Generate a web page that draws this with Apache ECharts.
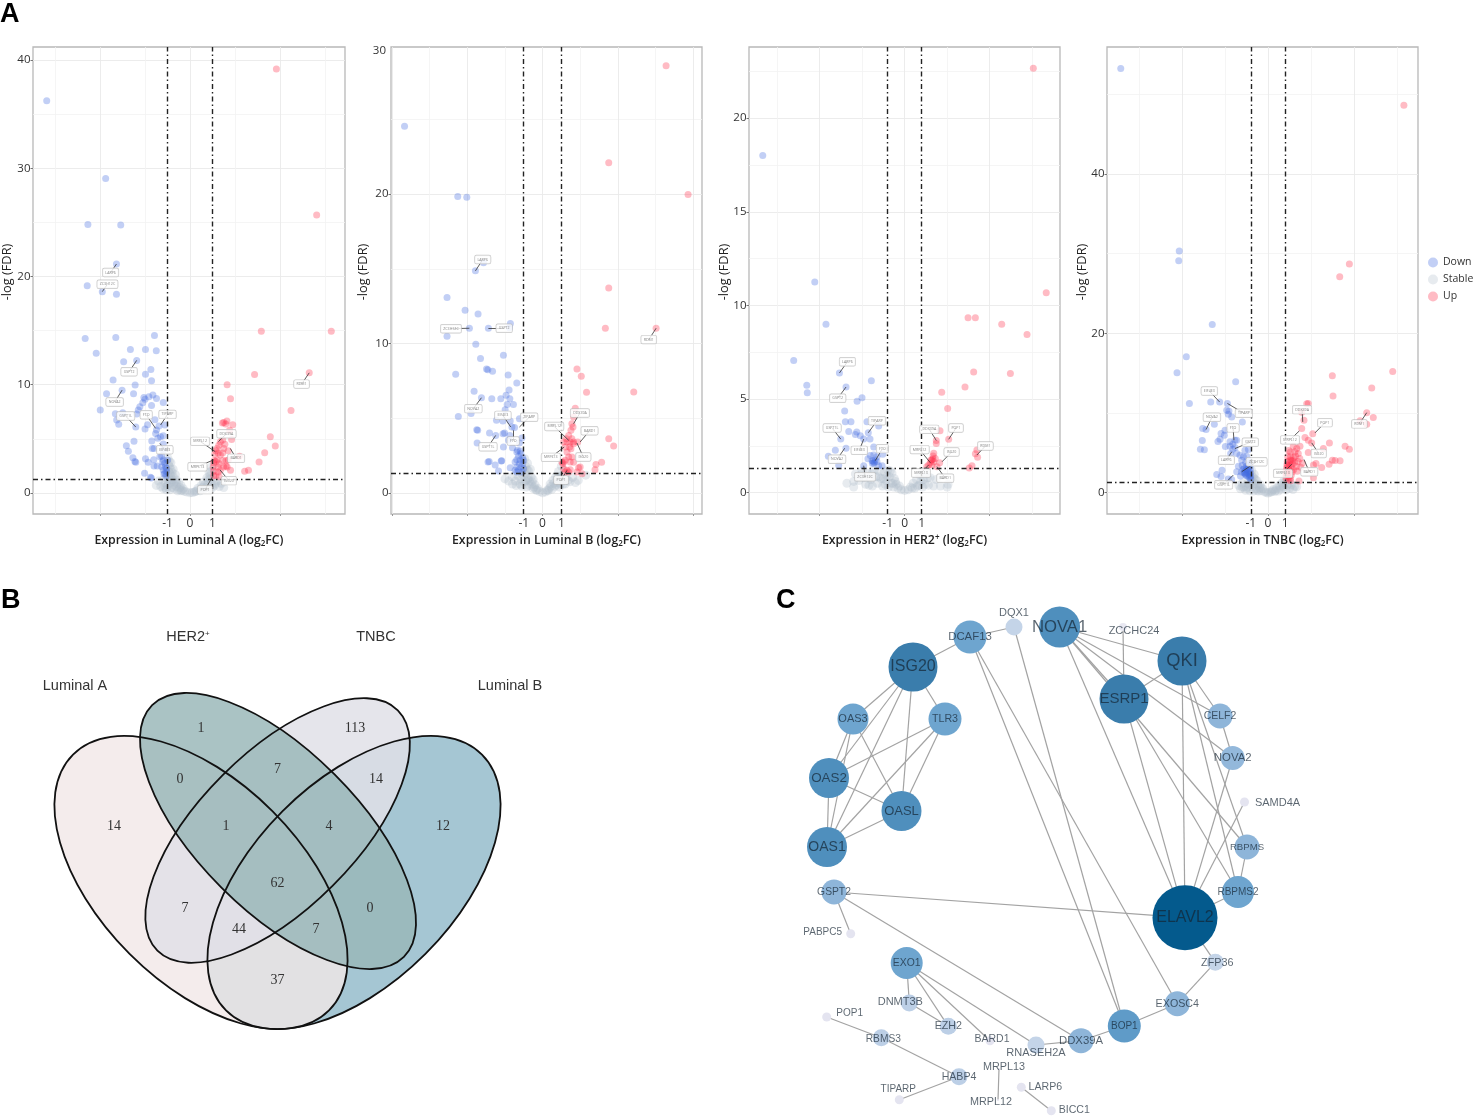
<!DOCTYPE html>
<html><head><meta charset="utf-8">
<style>html,body{margin:0;padding:0;background:#fff}#c{width:1473px;height:1117px}</style>
<script src="https://cdn.jsdelivr.net/npm/echarts@6/dist/echarts.min.js"></script>
</head><body><div id="c"></div>
<script>
// ---------- Panel A data: [log2FC, -log(FDR)] ----------
const lumADown=[[-6.37,36.24],[-3.75,29.06],[-4.54,24.8],[-3.08,24.75],[-3.27,21.15],[-4.57,19.14],[-3.9,18.6],[-3.27,18.37],[-4.66,14.28],[-3.3,14.37],[-1.58,14.55],[-2.65,13.26],[-1.98,13.26],[-1.5,13.14],[-4.17,12.9],[-2.95,12.12],[-2.37,12.25],[-1.74,11.4],[-1.98,10.98],[-1.71,10.37],[-3.42,10.43],[-2.44,9.97],[-3.02,9.5],[-3.71,9.17],[-2.51,9.17],[-1.65,9.05],[-2.05,8.83],[-1.83,8.89],[-1.49,8.74],[-2.0,8.65],[-2.1,8.34],[-1.19,8.37],[-1.71,8.09],[-2.23,7.97],[-3.99,7.66],[-2.3,7.66],[-2.37,7.29],[-3.32,7.32],[-2.99,7.42],[-3.26,6.74],[-3.17,6.34],[-1.56,6.77],[-1.89,6.31],[-2.41,6.09],[-2.0,5.91],[-1.12,6.28],[-1.38,6.18],[-1.49,5.82],[-1.53,5.5],[-1.19,5.29],[-1.31,5.2],[-1.43,5.05],[-1.7,4.8],[-2.49,4.77],[-1.19,4.52],[-2.83,4.37],[-1.68,4.12],[-1.6,4.12],[-1.19,3.97],[-2.74,3.85],[-1.26,3.42],[-2.54,3.26],[-1.98,3.17],[-1.61,3.08],[-2.45,2.92],[-2.41,2.83],[-1.86,2.83],[-1.6,2.49],[-1.46,2.49],[-2.02,1.82],[-1.76,1.45],[-1.72,1.38],[-1.19,3.05],[-1.34,3.35],[-1.12,2.74],[-1.09,2.43],[-1.19,2.12],[-1.12,1.82],[-1.07,1.57],[-1.22,2.89],[-1.04,2.28],[-1.0,3.05],[-1.16,1.75],[-1.04,1.97],[-1.26,2.43]];
const lumAUp=[[3.84,39.17],[5.63,25.67],[3.17,14.95],[6.28,14.95],[5.3,11.1],[2.87,10.95],[1.65,10],[1.8,8.7],[4.49,7.63],[1.5,6.52],[1.44,6.46],[1.64,6.65],[1.59,6.37],[1.9,6.31],[3.57,5.2],[3.79,4.34],[3.32,3.72],[3.07,2.86],[2.6,2.09],[2.43,2.0],[1.85,4.95],[1.76,5.8],[1.05,1.6],[1.05,2.0],[1.03,2.4],[1.05,2.8],[1.08,3.0],[1.15,2.9],[1.2,3.05],[1.1,3.6],[1.15,3.9],[1.2,4.1],[1.28,4.4],[1.35,4.7],[1.45,4.9],[1.25,3.7],[1.35,3.5],[1.45,3.7],[1.5,4.1],[1.55,4.5],[1.7,3.9],[1.3,2.7],[1.45,3.0],[1.6,3.0],[1.7,3.05],[1.25,2.4],[1.35,2.1],[1.5,2.4],[1.6,2.5],[1.65,2.4],[1.15,1.6],[1.3,1.5],[1.8,2.1],[1.25,1.95],[2.2,3.4]];
const lumAStable=[[-1.5,.7],[-1.4,1.1],[-1.3,.6],[-1.2,1.2],[-1.2,.4],[-1.1,.9],[-1.05,.3],[-1,1.2],[-.98,3.2],[-.95,2.6],[-.95,2],[-.95,1.5],[-.95,.9],[-.9,.3],[-.85,2.8],[-.85,2.2],[-.85,1.6],[-.85,1.0],[-.8,.5],[-.75,2.2],[-.75,1.5],[-.7,1],[-.7,.4],[-.65,1.7],[-.6,1.2],[-.6,.6],[-.55,.2],[-.5,1.0],[-.45,.5],[-.4,.2],[-.4,.7],[-.3,.4],[-.25,.15],[-.15,.1],[0,.02],[.1,.05],[.2,.1],[.3,.2],[.35,.45],[.45,.2],[.5,.7],[.6,.35],[.6,1],[.7,.5],[.75,1.4],[.8,.9],[.85,1.9],[.9,.4],[.9,1.3],[.95,2.4],[.95,.9],[1.1,.7],[1.2,1.1],[1.3,.6],[1.4,.9],[1.5,.5],[-.92,2.9],[-.9,2.4],[-.9,1.8],[-.88,1.2],[-.8,1.9],[-.78,1.2],[-.72,.75],[-.6,.9],[-.5,.35],[-.35,.25],[.25,.15],[.55,.5],[.65,.75],[.8,1.2],[.88,1.6],[.92,2.0],[1.0,.5],[-1.0,.6],[-1.1,.5],[1.15,.9]];
const lumALabels=[["LARP6",-3.53,20.37,-3.27,21.15],["ZC3H12C",-3.67,19.29,-3.9,18.6],["GSPT2",-2.71,11.2,-2.37,12.25],["NOVA2",-3.35,8.4,-3.02,9.5],["GSPT1L",-2.86,7.11,-2.41,6.09],["FTO",-1.95,7.23,-1.53,5.97],["TIPARP",-1.0,7.26,-1.31,6.28],["EIF4E3",-1.12,4.0,-1.34,4.58],["MRPL12",.45,4.77,1.12,3.82],["MRPL13",.33,2.43,1.04,3.05],["DDX39A",1.62,5.48,1.26,4.74],["BARD1",2.05,3.2,1.79,4.12],["ISG20",1.73,1.14,1.34,2.12],["POP1",.67,.31,1,1.5],["RDM1",4.96,10.06,5.3,11.1]];

const lumBDown=[[-7.34,24.55],[-4.51,19.84],[-4.03,19.8],[-3.57,14.87],[-3.14,15.42],[-5.08,13.08],[-4.12,12.23],[-3.43,11.99],[-3.89,11.03],[-2.88,11.03],[-1.71,11.34],[-1.76,11.07],[-5.08,10.49],[-3.55,9.96],[-2.08,9.22],[-3.3,9.0],[-2.98,8.3],[-2.91,8.26],[-2.66,8.15],[-4.62,7.95],[-1.83,7.9],[-1.37,7.37],[-1.78,6.9],[-3.64,6.81],[-1.94,6.54],[-3.25,6.38],[-2.7,6.32],[-2.22,6.32],[-1.74,6.32],[-1.88,5.92],[-1.55,5.92],[-1.99,5.58],[-3.8,5.33],[-4.48,5.13],[-2.45,4.87],[-2.11,4.82],[-1.72,4.82],[-1.23,4.98],[-1.63,4.42],[-1.49,4.38],[-3.5,4.24],[-3.45,4.2],[-2.82,4.02],[-2.1,3.97],[-2.02,4.02],[-2.49,3.86],[-1.74,3.86],[-1.1,3.68],[-3.48,3.35],[-1.81,3.53],[-1.23,3.35],[-2.08,3.08],[-1.6,3.04],[-1.33,2.86],[-1.19,2.81],[-1.37,2.75],[-1.15,2.63],[-1.28,2.46],[-1.05,2.37],[-1.37,2.23],[-1.19,2.19],[-1.01,2.19],[-1.46,2.08],[-1.24,1.96],[-1.05,1.96],[-1.37,1.74],[-1.15,1.74],[-1.01,1.63],[-1.46,1.52],[-1.28,1.52],[-1.1,1.41],[-1.37,1.41],[-2.84,2.12],[-2.9,2.08],[-2.17,2.17],[-2.52,1.88],[-2.2,2.15],[-2.34,1.47],[-1.72,1.7]];
const lumBUp=[[6.57,28.6],[3.52,22.1],[7.74,19.98],[3.52,13.73],[3.34,11.03],[6.04,11.03],[1.83,8.3],[2.06,7.81],[2.34,6.74],[4.85,6.76],[1.74,5.67],[1.65,5.09],[1.56,4.64],[1.62,4.42],[1.51,4.2],[3.52,3.64],[3.78,3.15],[1.39,3.86],[1.26,3.64],[1.56,3.64],[1.12,3.42],[1.3,3.42],[1.47,3.42],[1.65,3.42],[1.87,3.42],[1.21,3.08],[1.44,3.08],[1.65,3.3],[1.3,2.75],[1.51,2.97],[1.39,2.41],[1.56,2.41],[1.21,2.19],[1.47,2.08],[1.03,2.08],[1.12,2.08],[1.08,1.96],[1.65,2.07],[3.14,2.07],[2.84,1.92],[2.79,1.56],[1.92,1.7],[2.0,1.74],[1.83,1.41],[2.1,1.3],[1.12,1.63],[1.3,1.52],[1.47,1.56],[1.21,1.41],[1.39,1.41]];
const lumBStable=[[-2.0,.95],[-1.8,.8],[-1.6,1.1],[-1.45,.8],[-1.3,1.15],[-1.2,.6],[-1.05,1.2],[-1,.75],[-.95,2.3],[-.9,1.8],[-.9,1.3],[-.9,.8],[-.85,.4],[-.8,2.0],[-.75,1.5],[-.75,1.0],[-.7,.5],[-.65,1.6],[-.6,1.1],[-.6,.6],[-.5,.9],[-.5,.3],[-.4,.55],[-.35,.2],[-.25,.3],[-.15,.1],[0,.02],[.15,.08],[.25,.2],[.35,.3],[.4,.6],[.5,.25],[.55,.85],[.65,.45],[.7,1.1],[.8,.7],[.85,1.45],[.9,.4],[.95,1.0],[1.0,1.8],[1.1,.6],[1.25,1.0],[1.45,.75],[1.6,1.05],[1.75,.7],[1.9,.85],[2.3,1.2],[-1.15,.95],[-1.1,.45],[-.98,1.55],[-.82,1.55],[-.8,.9],[-.7,.8],[-.55,.75],[-.45,.4],[-.3,.2],[.3,.15],[.45,.45],[.6,.65],[.75,.55],[.8,1.1],[.95,.6],[1.05,1.2],[1.2,.6],[1.35,.85],[-1.6,.6],[-1.4,.5]];
const lumBLabels=[["LARP6",-3.18,15.63,-3.57,14.87],["ZC3H12C",-4.87,11,-3.89,11.03],["GSPT2",-2.04,11.03,-2.88,11.03],["NOVA2",-3.68,5.65,-3.25,6.38],["EIF4E3",-2.11,5.2,-1.69,4.42],["TIPARP",-.71,5.07,-1.23,4.42],["FTO",-1.56,3.48,-1.56,4.2],["GSPT1L",-2.9,3.1,-2.49,3.86],["MRPL12",.62,4.46,1.39,3.53],["MRPL13",.44,2.39,1.15,3.08],["DDX39A",1.99,5.36,1.65,4.64],["BARD1",2.5,4.17,2.0,3.42],["ISG20",2.17,2.41,1.83,3.35],["POP1",.99,.87,1.3,1.52],["RDM1",5.65,10.27,6.04,11.03]];

const her2Down=[[-8.35,18],[-5.29,11.25],[-4.63,9.0],[-6.53,7.06],[-5.76,5.73],[-5.73,5.34],[-3.84,6.39],[-3.45,5.64],[-1.96,5.98],[-2.51,5.07],[-2.8,4.88],[-3.53,4.36],[-3.49,3.79],[-3.16,3.79],[-2.22,3.79],[-1.53,3.56],[-3.29,3.27],[-2.14,3.2],[-2.82,3.24],[-2.9,3.11],[-2.61,3.04],[-3.76,2.86],[-2.41,2.86],[-2.04,2.86],[-1.82,2.44],[-3.45,2.37],[-4.08,2.26],[-1.29,2.05],[-4.49,1.94],[-2.02,1.98],[-1.82,2.01],[-1.63,1.92],[-2.16,1.81],[-1.92,1.71],[-1.73,1.74],[-1.82,1.57],[-1.63,1.65],[-1.9,1.57],[-1.78,1.62],[-1.86,1.68],[-3.88,1.46],[-2.41,1.44],[-1.53,1.44],[-1.33,1.44]];
const her2Up=[[7.57,22.66],[8.33,10.68],[3.73,9.34],[4.16,9.34],[5.71,9.0],[7.2,8.45],[6.22,6.37],[4.06,6.44],[3.55,5.64],[2.18,5.36],[2.53,4.5],[2.08,3.31],[2.59,2.85],[1.86,2.79],[1.86,2.63],[4.25,2.28],[4.16,2.08],[4.29,1.89],[3.96,1.44],[3.8,1.32],[1.71,2.1],[1.67,1.96],[1.55,1.74],[1.8,1.83],[1.71,1.65],[1.41,1.48],[1.61,1.48],[2.06,1.6],[1.9,1.39],[1.51,1.6],[1.6,1.75],[1.66,1.8],[1.3,1.38]];
const her2Stable=[[-3.4,.5],[-3.0,.3],[-3.0,.6],[-2.9,1.0],[-2.7,.65],[-2.5,1.15],[-2.4,.8],[-2.3,.45],[-2.2,1.05],[-2.0,.7],[-1.9,.35],[-1.8,1.2],[-1.7,.85],[-1.6,.5],[-1.5,1.15],[-1.4,.75],[-1.3,.35],[-1.2,1.1],[-1.1,.65],[-1,1.2],[-.95,.3],[-.9,.85],[-.8,.5],[-.75,1.05],[-.65,.3],[-.6,.75],[-.5,.45],[-.4,.25],[-.3,.35],[-.2,.15],[0,.12],[.2,.15],[.35,.3],[.5,.5],[.6,.25],[.7,.7],[.85,.4],[.9,.95],[1.05,.3],[1.1,.7],[1.25,1.15],[1.4,.4],[1.5,.8],[1.7,.35],[1.85,.7],[2.1,.35],[2.5,.3],[2.55,.45],[-2.6,.95],[-2.1,.4],[-1.95,1.0],[-1.55,.85],[-1.25,.75],[-1.15,.45],[-1.05,.9],[-.85,1.15],[-.7,.5],[-.55,.6],[.45,.25],[.75,.35],[.95,.6],[1.2,.45],[1.35,.8]];
const her2Labels=[["LARP6",-3.37,6.99,-3.84,6.39],["GSPT2",-3.94,5.04,-3.45,5.64],["TIPARP",-1.63,3.84,-2.14,3.2],["GSPT1L",-4.27,3.45,-3.76,2.86],["EIF4E3",-2.67,2.26,-2.41,2.86],["FTO",-1.31,2.35,-1.73,1.71],["NOVA2",-3.98,1.78,-3.53,2.37],["ZC3H12C",-2.33,.85,-2.41,1.44],["MRPL12",.88,2.3,1.51,1.6],["MRPL13",.96,1.05,1.41,1.48],["DDX39A",1.45,3.38,1.86,2.79],["POP1",3.02,3.45,2.59,2.85],["ISG20",2.76,2.17,2.2,1.65],["BARD1",2.39,.77,1.9,1.39],["RDM1",4.75,2.49,4.25,2.01]];

const tnbcDown=[[-8.56,53.2],[-5.16,30.3],[-5.19,29.1],[-3.24,21.1],[-4.75,17.04],[-5.29,15.04],[-1.88,13.92],[-4.57,11.2],[-3.33,11.37],[-2.81,11.37],[-2.36,11.2],[-2.4,10.33],[-2.27,10.25],[-2.31,9.83],[-2.11,9.5],[-1.49,8.88],[-3.12,8.58],[-3.8,8.04],[-3.6,7.92],[-2.5,7.83],[-2.73,7.42],[-2.54,7.21],[-2.79,6.71],[-2.91,6.42],[-3.82,6.54],[-2.21,6.38],[-1.92,6.58],[-1.82,6.58],[-2.05,6.08],[-2.21,5.83],[-2.48,5.79],[-1.92,5.67],[-2.05,5.46],[-2.17,4.92],[-3.93,5.46],[-3.7,5.38],[-1.34,5.33],[-1.14,5.42],[-1.82,4.92],[-1.63,4.71],[-1.43,4.5],[-1.24,4.58],[-1.53,4.08],[-1.72,3.33],[-1.82,2.63],[-2.67,2.83],[-2.98,2.29],[-2.73,2.04],[-2.31,1.71],[-2.11,1.67],[-1.0,1.7],[-1.0,2.1],[-1.02,2.5],[-1.03,2.9],[-1.05,3.3],[-1.05,3.7],[-1.1,1.9],[-1.1,2.3],[-1.12,2.7],[-1.15,3.1],[-1.15,3.5],[-1.2,2.1],[-1.22,2.5],[-1.25,2.9],[-1.28,3.3],[-1.3,2.3],[-1.33,2.7],[-1.38,3.0],[-1.4,2.5],[-1.45,2.9],[-1.1,4.0],[-1.3,3.8],[-1.5,3.4],[-1.55,2.6],[-1.05,2.0],[-1.18,2.85],[-1.28,2.15],[-1.35,2.45],[-1.6,2.1]];
const tnbcUp=[[7.9,48.6],[4.73,28.7],[4.17,27.1],[7.25,15.2],[3.74,14.67],[6.03,13.13],[3.78,12.13],[2.34,11.2],[2.25,11.17],[5.74,10.04],[6.12,9.42],[5.35,9.04],[5.74,8.58],[1.96,10.1],[2.09,9.08],[1.96,8.04],[2.6,7.38],[2.15,6.92],[2.34,6.58],[2.54,6.25],[3.57,6.25],[4.48,5.83],[4.73,5.46],[3.22,5.54],[1.47,5.83],[1.67,5.54],[1.86,5.83],[1.57,5.13],[1.76,4.92],[2.34,5.04],[3.74,4.08],[3.9,4.04],[4.19,4.0],[3.55,3.58],[3.12,3.17],[2.79,3.67],[2.64,3.46],[2.64,1.88],[1.8,1.46],[1.28,1.79],[1.18,1.58],[1.32,1.5],[1.05,1.8],[1.05,2.2],[1.05,2.7],[1.08,3.1],[1.1,3.5],[1.12,3.9],[1.15,2.4],[1.2,2.9],[1.22,3.3],[1.25,3.7],[1.3,4.1],[1.3,4.5],[1.35,3.2],[1.4,3.6],[1.4,2.6],[1.45,4.0],[1.5,4.4],[1.55,3.8],[1.6,4.6],[1.65,3.3],[1.75,3.9],[1.85,4.3],[1.2,2.0],[1.35,2.2],[1.5,2.9],[1.7,2.7],[1.9,3.2],[2.0,3.7],[1.3,5.1],[1.15,4.5],[1.2,5.3],[1.08,2.4],[1.15,3.4],[1.28,2.75],[1.35,4.0]];
const tnbcStable=[[-1.7,.9],[-1.6,.5],[-1.5,1.2],[-1.4,.7],[-1.3,.3],[-1.2,1.2],[-1.15,.7],[-1.05,.25],[-1,1.2],[-.95,2.8],[-.95,2.2],[-.95,1.6],[-.9,.8],[-.85,.2],[-.8,2.3],[-.75,1.7],[-.75,1.1],[-.7,.5],[-.65,1.5],[-.6,.95],[-.55,.2],[-.5,.6],[-.45,1.0],[-.4,.25],[-.3,.5],[-.2,.1],[-.1,.05],[0,-.05],[.1,.05],[.2,.1],[.3,.4],[.4,.15],[.5,.6],[.6,.2],[.65,.9],[.75,.4],[.8,1.2],[.9,.7],[.95,1.6],[1.05,.35],[1.1,.9],[1.25,.55],[1.35,1.0],[1.45,.4],[1.55,.8],[1.67,.75],[-1.1,1.0],[-1.25,.6],[-.85,1.3],[-.85,1.9],[-.65,.3],[-.4,.6],[.25,.2],[.45,.3],[.7,.65],[.85,.95],[1.0,1.3],[1.2,1.1],[-1.5,.7]];
const tnbcLabels=[["EIF4E3",-3.41,12.75,-2.81,11.37],["TIPARP",-1.4,9.96,-2.36,11.2],["NOVA2",-3.26,9.46,-3.6,7.92],["FTO",-2.03,8.13,-1.98,6.58],["GSPT2",-1.03,6.33,-1.92,5.54],["LARP6",-2.42,4.08,-2.11,5.13],["ZC3H12C",-.66,3.88,-1.53,2.63],["GSPT1L",-2.58,1,-2.02,2.21],["MRPL12",1.28,6.63,1.82,7.75],["DDX39A",1.98,10.42,2.02,8.88],["POP1",3.31,8.79,2.73,7.5],["ISG20",2.95,4.92,2.54,6.25],["BARD1",2.4,2.63,2.09,4.17],["MRPL13",.87,2.42,1.38,3.58],["RDM1",5.31,8.63,5.74,10.04]];

const fdrCut=[1.3], fcCuts=[-1,1];
const xTickLabels=[-1,0,1];
// ---------- Panel B data ----------
const vennSets=["Luminal A","HER2","TNBC","Luminal B"];
const vennCounts=[14,1,113,0,7,14,1,4,12,62,7,0,44,7,37];
// ---------- Panel C data ----------
const genes=["ISG20","DCAF13","DQX1","NOVA1","ZCCHC24","QKI","ESRP1","CELF2","NOVA2","SAMD4A","RBPMS","RBPMS2","ELAVL2","OAS3","TLR3","OAS2","OASL","OAS1","GSPT2","PABPC5","EXO1","DNMT3B","EZH2","BARD1","RNASEH2A","DDX39A","BOP1","EXOSC4","ZFP36","POP1","RBMS3","HABP4","TIPARP","MRPL13","MRPL12","LARP6","BICC1"];
const geneLinks=[["DCAF13","ISG20"],["DCAF13","DQX1"],["DCAF13","BOP1"],["DCAF13","EXOSC4"],["DQX1","BOP1"],["ISG20","OAS3"],["ISG20","OAS2"],["ISG20","OAS1"],["ISG20","OASL"],["ISG20","TLR3"],["OAS3","OAS2"],["OAS3","OAS1"],["OAS3","OASL"],["TLR3","OAS2"],["TLR3","OAS1"],["TLR3","OASL"],["OAS2","OASL"],["OAS2","OAS1"],["OASL","OAS1"],["NOVA1","QKI"],["NOVA1","ESRP1"],["NOVA1","CELF2"],["NOVA1","ELAVL2"],["NOVA1","RBPMS"],["NOVA1","NOVA2"],["ZCCHC24","ESRP1"],["QKI","ESRP1"],["QKI","CELF2"],["QKI","ELAVL2"],["QKI","RBPMS"],["QKI","RBPMS2"],["ESRP1","ELAVL2"],["ESRP1","RBPMS2"],["CELF2","NOVA2"],["NOVA2","ELAVL2"],["SAMD4A","ELAVL2"],["RBPMS","RBPMS2"],["RBPMS2","ELAVL2"],["ELAVL2","GSPT2"],["ELAVL2","ZFP36"],["ZFP36","EXOSC4"],["EXOSC4","BOP1"],["BOP1","DDX39A"],["DDX39A","RNASEH2A"],["DDX39A","GSPT2"],["GSPT2","PABPC5"],["EXO1","DNMT3B"],["EXO1","EZH2"],["EXO1","BARD1"],["EXO1","RNASEH2A"],["DNMT3B","EZH2"],["POP1","RBMS3"],["RBMS3","HABP4"],["HABP4","TIPARP"],["MRPL13","MRPL12"],["LARP6","BICC1"]];

// ---------- Layout and styling ----------
const SANS='"Open Sans",sans-serif', NET='"Liberation Sans",sans-serif';
const panels=[
 {down:lumADown,up:lumAUp,stable:lumAStable,labels:lumALabels,left:33,right:345,x:[-6.98,6.89],y:[-1.94,41.2],xMaj:[-4,0,4],xMin:[-6,-2,2,6],yMaj:[0,10,20,30,40],yMin:[5,15,25,35],yLab:[0,10,20,30,40],title:'{a|Expression in Luminal A (log}{s|2}{a|FC)}',gap:19},
 {down:lumBDown,up:lumBUp,stable:lumBStable,labels:lumBLabels,left:391,right:702,x:[-8.06,8.48],y:[-1.4,29.85],xMaj:[-8,-4,0,4,8],xMin:[-6,-2,2,6],yMaj:[0,10,20],yMin:[5,15,25],yLab:[0,10,20],title:'{a|Expression in Luminal B (log}{s|2}{a|FC)}',gap:21},
 {down:her2Down,up:her2Up,stable:her2Stable,labels:her2Labels,left:749,right:1060,x:[-9.16,9.14],y:[-1.14,23.8],xMaj:[-5,0,5],xMin:[-7.5,-2.5,2.5,7.5],yMaj:[0,5,10,15,20],yMin:[2.5,7.5,12.5,17.5,22.5],yLab:[0,5,10,15,20],title:'{a|Expression in HER2}{p|+}{a| (log}{s|2}{a|FC)}',gap:18},
 {down:tnbcDown,up:tnbcUp,stable:tnbcStable,labels:tnbcLabels,left:1107,right:1418,x:[-9.36,8.72],y:[-2.67,55.9],xMaj:[-5,0,5],xMin:[-7.5,-2.5,2.5,7.5],yMaj:[0,20,40],yMin:[10,30,50],yLab:[0,20,40],title:'{a|Expression in TNBC (log}{s|2}{a|FC)}',gap:18}
];
const TOP=47,BOTTOM=514;
const grids=[],xAxes=[],yAxes=[],series=[];
const hidden={axisLine:{show:false,onZero:false},axisLabel:{show:false}};
panels.forEach((p,i)=>{
  grids.push({left:p.left,top:TOP,width:p.right-p.left,height:BOTTOM-TOP,show:true,borderColor:'#b8b8b8',borderWidth:1.3,backgroundColor:'#fff',outerBoundsMode:'none'});
  xAxes.push({gridIndex:i,type:'value',min:p.x[0],max:p.x[1],position:'bottom',
    name:p.title,nameLocation:'middle',nameGap:18,
    nameTextStyle:{fontFamily:SANS,fontSize:12.3,fontWeight:600,color:'#222',rich:{a:{fontFamily:SANS,fontSize:12.3,fontWeight:600,color:'#222',lineHeight:16},s:{fontFamily:SANS,fontSize:8,color:'#222',verticalAlign:'bottom',lineHeight:13,padding:[7,0,0,0]},p:{fontFamily:SANS,fontSize:8,color:'#222',padding:[0,0,5,0]}}},
    axisLine:{show:false,onZero:false},axisTick:{show:true,length:2,customValues:p.xMaj,lineStyle:{color:'#999'}},
    axisLabel:{customValues:xTickLabels,margin:4,fontFamily:SANS,fontSize:12,color:'#333',hideOverlap:false,showMinLabel:true,showMaxLabel:true},
    splitLine:{show:true,lineStyle:{color:'#eaeaea',width:.9}}});
  xAxes.push(Object.assign({gridIndex:i,type:'value',min:p.x[0],max:p.x[1],position:'bottom',axisTick:{show:false,customValues:p.xMin},splitLine:{show:true,lineStyle:{color:'#f3f3f3',width:.8}}},hidden));
  yAxes.push({gridIndex:i,type:'value',min:p.y[0],max:p.y[1],
    name:'-log (FDR)',nameLocation:'middle',nameGap:p.gap,nameMoveOverlap:false,nameRotate:90,
    nameTextStyle:{fontFamily:SANS,fontSize:12.8,color:'#222',padding:[0,0,0,17]},
    axisLine:{show:false,onZero:false},axisTick:{show:true,length:2.5,customValues:p.yMaj,lineStyle:{color:'#777'}},
    axisLabel:{customValues:p.yLab,margin:2.5,fontFamily:SANS,fontSize:11.5,color:'#333'},
    splitLine:{show:true,lineStyle:{color:'#eaeaea',width:.9}}});
  yAxes.push(Object.assign({gridIndex:i,type:'value',min:p.y[0],max:p.y[1],axisTick:{show:false,customValues:p.yMin},splitLine:{show:true,lineStyle:{color:'#f3f3f3',width:.8}}},hidden));
  const ax={xAxisIndex:i*2,yAxisIndex:i*2};
  series.push(Object.assign({},ax,{name:'Stable',type:'scatter',data:p.stable,symbolSize:9,itemStyle:{color:'rgba(178,190,203,.38)'},silent:true,z:2,
    markLine:{silent:true,symbol:'none',animation:false,z:8,label:{show:false},lineStyle:{color:'#222',type:[5,3,1.5,3],width:1.4},
      data:fcCuts.map(v=>({xAxis:v})).concat(fdrCut.map(v=>({yAxis:v})))}}));
  series.push(Object.assign({},ax,{name:'Down',type:'scatter',data:p.down,symbolSize:7,itemStyle:{color:'rgba(65,105,225,.4)'},silent:true,z:3}));
  series.push(Object.assign({},ax,{name:'Up',type:'scatter',data:p.up,symbolSize:7,itemStyle:{color:'rgba(255,45,70,.4)'},silent:true,z:3}));
  series.push(Object.assign({},ax,{name:'conn'+i,type:'lines',coordinateSystem:'cartesian2d',polyline:false,silent:true,z:9,
    lineStyle:{color:'#333',width:.8,opacity:1},effect:{show:false},
    data:p.labels.map(l=>({coords:[[l[1],l[2]],[l[3],l[4]]]}))}));
  series.push(Object.assign({},ax,{name:'tag'+i,type:'scatter',symbolSize:1,itemStyle:{color:'transparent'},silent:true,z:10,
    data:p.labels.map(l=>({value:[l[1],l[2]],name:l[0]})),
    label:{show:true,position:'inside',formatter:'{b}',fontFamily:SANS,fontSize:3.6,color:'#666',backgroundColor:'#fff',borderColor:'#bcbcbc',borderWidth:.7,borderRadius:1.5,padding:[2,2.5]},labelLayout:{hideOverlap:false}}));
});

// network: node placement, sizes, colours and text offsets
const nodeLayout={ISG20:[913,667,49,'#3a7dac',16],DCAF13:[970,637,33,'#6ea5cf',11.4],DQX1:[1014,627,17,'#c4d4e8',11,0,-14],NOVA1:[1059.6,627,41,'#4f8fbd',16.7],ZCCHC24:[1123,627,8,'#e8e8f2',11,11,4],QKI:[1182,661,49,'#3a7dac',18.3],ESRP1:[1124,699,49,'#3a7dac',15],CELF2:[1220,716,25,'#8eb5d9',10.5],NOVA2:[1232.7,758,24,'#93b8db',11.4],SAMD4A:[1244.5,802,9,'#e4e4f0',11,33,1],RBPMS:[1247,847,25,'#8eb5d9',9.6],RBPMS2:[1238,892,32,'#6ea5cf',10],ELAVL2:[1185,917.7,65,'#045a8d',16],OAS3:[853,719,31,'#6ea5cf',11],TLR3:[945,719,33,'#6ea5cf',10.7],OAS2:[829,778,40,'#4f8fbd',13.4],OASL:[901.5,811,40,'#4f8fbd',13],OAS1:[827,847,40,'#4f8fbd',14],GSPT2:[834,892,25,'#8eb5d9',10.3],PABPC5:[850.7,933.7,9,'#e4e4f0',10,-28,-1],EXO1:[906.7,963,32,'#6ea5cf',10.4],DNMT3B:[909.3,1003,17,'#bccfe6',11,-9,-1],EZH2:[948.3,1026.3,17,'#bccfe6',10.7],BARD1:[990,1040.7,9,'#e4e4f0',10.5,2,-2],RNASEH2A:[1036,1045,17,'#c4d4e8',11,0,8],DDX39A:[1081,1040.7,25,'#8eb5d9',11.3],BOP1:[1124.3,1026,33,'#5f9bc8',10],EXOSC4:[1177.3,1003.7,25,'#8eb5d9',10.7],ZFP36:[1215.3,962.3,17,'#c4d4e8',10.8,2,1],POP1:[826.7,1017,9,'#e4e4f0',10,23,-4],RBMS3:[881.3,1037.7,17,'#bccfe6',10.2,2,1],HABP4:[959,1076.7,17,'#bccfe6',10.6],TIPARP:[899.3,1099.7,9,'#e4e4f0',10,-1,-10],MRPL13:[999,1069,2,'#e4e4f0',10.8,5,-2],MRPL12:[998,1100,2,'#e4e4f0',10.8,-7,2],LARP6:[1021.3,1087.3,9,'#e4e4f0',10.6,24,0],BICC1:[1051.3,1110.7,9,'#e4e4f0',10.6,23,-1]};
grids.push({left:770,top:590,width:703,height:527,show:false,outerBoundsMode:'none'});
xAxes.push({gridIndex:4,type:'value',min:770,max:1473,show:false});
yAxes.push({gridIndex:4,type:'value',min:590,max:1117,inverse:true,show:false});
series.push({type:'graph',name:'network',coordinateSystem:'cartesian2d',xAxisIndex:8,yAxisIndex:8,layout:'none',silent:true,z:5,
  data:genes.map(g=>{const n=nodeLayout[g];return{name:g,value:[n[0],n[1]],symbolSize:n[2],itemStyle:{color:n[3]},label:{show:false}};}),
  links:geneLinks.map(l=>({source:l[0],target:l[1]})),
  lineStyle:{color:'#a3a3a3',width:1.2,opacity:1,curveness:0}});
series.push({type:'scatter',name:'geneText',xAxisIndex:8,yAxisIndex:8,symbolSize:1,itemStyle:{color:'transparent'},silent:true,z:6,
  data:genes.map(g=>{const n=nodeLayout[g];return{name:g,value:[n[0]+(n[5]||0),n[1]+(n[6]||0)],
    label:{show:true,position:'inside',formatter:'{b}',fontFamily:NET,fontSize:n[4],color:'rgba(20,35,50,.88)'}};}),
  labelLayout:{hideOverlap:false}});

// Venn diagram
const vennShapes=[
 {cx:354,cy:882.5,rx:181,ry:101,rot:Math.PI/4,fill:'#a5c6d3'},
 {cx:201,cy:882.5,rx:181,ry:101,rot:-Math.PI/4,fill:'rgba(241,231,231,.8)'},
 {cx:277.6,cy:830.5,rx:170,ry:78,rot:Math.PI/4,fill:'rgba(224,224,231,.84)'},
 {cx:278,cy:831,rx:178,ry:80,rot:-Math.PI/4,fill:'rgba(153,183,184,.83)'}
];
const vennCountPos=[[114,826],[201,728],[355,728],[180,779],[277.6,769],[376,779],[226,826],[329,826],[443,826],[277.6,883],[185,908],[370,908],[239,929],[316,929],[277.6,980]];
const vennTitlePos=[[75,686],[188,637],[376,637],[510,686]];
const graphic=[];
vennShapes.forEach(s=>graphic.push({type:'ellipse',silent:true,x:s.cx,y:s.cy,rotation:s.rot,shape:{cx:0,cy:0,rx:s.rx,ry:s.ry},style:{fill:s.fill,stroke:null},z:20}));
vennShapes.forEach(s=>graphic.push({type:'ellipse',silent:true,x:s.cx,y:s.cy,rotation:s.rot,shape:{cx:0,cy:0,rx:s.rx,ry:s.ry},style:{fill:'none',stroke:'#111',lineWidth:1.8},z:21}));
vennCounts.forEach((c,i)=>graphic.push({type:'text',silent:true,x:vennCountPos[i][0],y:vennCountPos[i][1],z:22,style:{text:String(c),fill:'#333',font:'14px "Liberation Serif",serif',textAlign:'center',textVerticalAlign:'middle'}}));
vennSets.forEach((s,i)=>graphic.push({type:'text',silent:true,x:vennTitlePos[i][0],y:vennTitlePos[i][1],z:22,style:s==='HER2'?
  {text:'{a|HER2}{b|+}',textAlign:'center',textVerticalAlign:'middle',rich:{a:{font:'14.5px "Liberation Sans",sans-serif',fill:'#333'},b:{font:'8px "Liberation Sans",sans-serif',fill:'#333',padding:[0,0,6,0]}}}:
  {text:s,fill:'#333',font:'14.5px "Liberation Sans",sans-serif',textAlign:'center',textVerticalAlign:'middle'}}));
// panel letters and the clamped tick label of the Luminal B panel
[['A',0,15],['B',1,601],['C',776,601]].forEach(t=>graphic.push({type:'text',silent:true,x:t[1],y:t[2],z:22,style:{text:t[0],fill:'#000',font:'bold 27px "Liberation Sans",sans-serif',textVerticalAlign:'middle'}}));
graphic.push({type:'text',silent:true,x:386,y:51,z:22,style:{text:'30',fill:'#333',font:'11.5px "Open Sans",sans-serif',textAlign:'right',textVerticalAlign:'middle'}});

const chart=echarts.init(document.getElementById('c'),null,{renderer:'canvas'});
chart.setOption({animation:false,backgroundColor:'#fff',grid:grids,xAxis:xAxes,yAxis:yAxes,series,graphic,
  legend:{data:['Down','Stable','Up'],orient:'vertical',left:1428,top:257,padding:0,icon:'circle',itemWidth:10,itemHeight:10,itemGap:6,selectedMode:false,textStyle:{fontFamily:SANS,fontSize:10.5,color:'#333'}},
  tooltip:{show:false}});
</script></body></html>
